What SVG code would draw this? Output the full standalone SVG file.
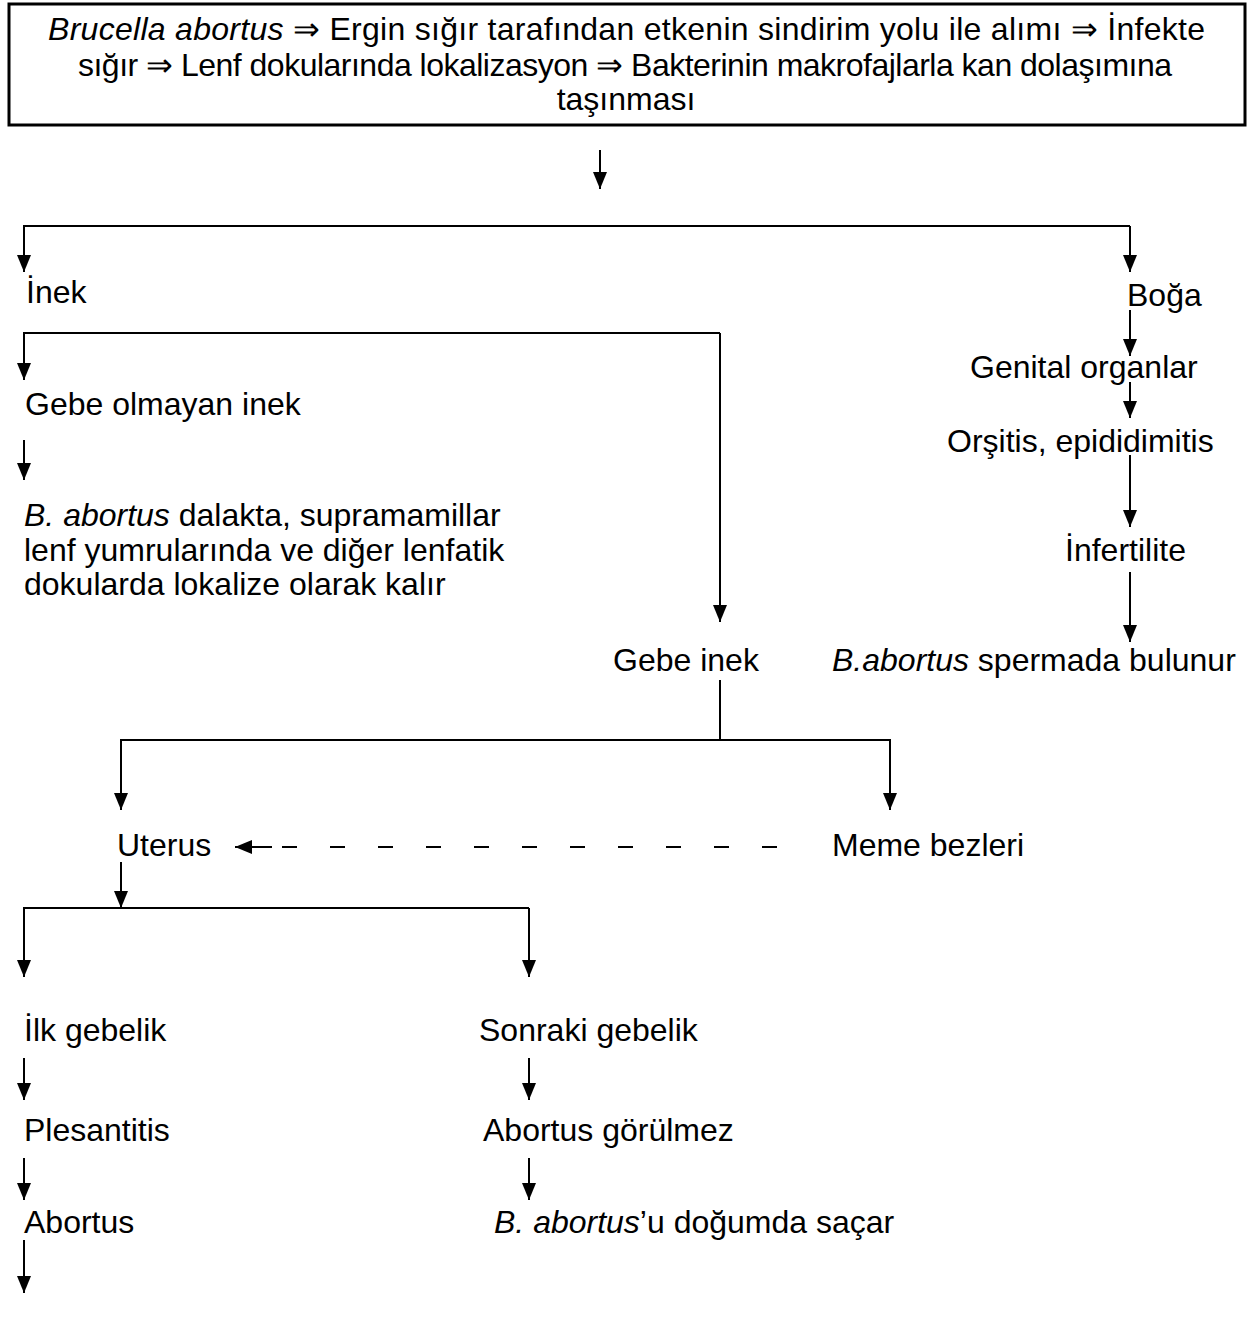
<svg xmlns="http://www.w3.org/2000/svg" width="1253" height="1318" viewBox="0 0 1253 1318">
<style>
text{font-family:"Liberation Sans",Arial,sans-serif;font-size:32px;fill:#000}
.i{font-style:italic}
.c{stroke:#000;stroke-width:2;fill:none}
.d{stroke:#000;stroke-width:2;fill:none;stroke-dasharray:15,33}
</style>
<defs>
<marker id="a" viewBox="0 0 17 14" refX="17" refY="7" markerWidth="17" markerHeight="14" markerUnits="userSpaceOnUse" orient="auto"><path d="M0,0 L17,7 L0,14 Z" fill="#000"/></marker>
</defs>
<g id="top">
<rect x="9" y="4" width="1236" height="121" fill="none" stroke="#000" stroke-width="3"/>
<text x="48" y="40" textLength="1157"><tspan class="i">Brucella abortus</tspan> ⇒ Ergin sığır tarafından etkenin sindirim yolu ile alımı  ⇒ İnfekte</text>
<text x="78" y="76" textLength="1094">sığır  ⇒ Lenf dokularında lokalizasyon  ⇒ Bakterinin makrofajlarla kan dolaşımına</text>
<text x="626" y="110" text-anchor="middle">taşınması</text>
</g>
<g id="inek"><text x="26" y="303">İnek</text></g>
<g id="boga"><text x="1127" y="306">Boğa</text></g>
<g id="gebe-olmayan"><text x="25" y="415">Gebe olmayan inek</text></g>
<g id="lokalize">
<text x="24" y="526"><tspan class="i">B. abortus</tspan> dalakta, supramamillar</text>
<text x="24" y="561">lenf yumrularında ve diğer lenfatik</text>
<text x="24" y="595">dokularda lokalize olarak kalır</text>
</g>
<g id="genital"><text x="970" y="378">Genital organlar</text></g>
<g id="orsitis"><text x="947" y="452">Orşitis, epididimitis</text></g>
<g id="infertilite"><text x="1065" y="561">İnfertilite</text></g>
<g id="sperm"><text x="832" y="671"><tspan class="i">B.abortus</tspan> spermada bulunur</text></g>
<g id="gebe-inek"><text x="613" y="671">Gebe inek</text></g>
<g id="uterus"><text x="117" y="856">Uterus</text></g>
<g id="meme"><text x="832" y="856">Meme bezleri</text></g>
<g id="ilk"><text x="24" y="1041">İlk gebelik</text></g>
<g id="sonraki"><text x="479" y="1041">Sonraki gebelik</text></g>
<g id="plesantitis"><text x="24" y="1141">Plesantitis</text></g>
<g id="gorulmez"><text x="483" y="1141">Abortus görülmez</text></g>
<g id="abortus"><text x="24" y="1233">Abortus</text></g>
<g id="sacar"><text x="494" y="1233"><tspan class="i">B. abortus</tspan>’u doğumda saçar</text></g>
<g id="connectors">
<path class="c" d="M600,150 V189" marker-end="url(#a)"/>
<path class="c" d="M1130,226 H24 V272" marker-end="url(#a)"/>
<path class="c" d="M1130,226 V272" marker-end="url(#a)"/>
<path class="c" d="M720,333 H24 V380" marker-end="url(#a)"/>
<path class="c" d="M720,333 V622" marker-end="url(#a)"/>
<path class="c" d="M24,440 V480" marker-end="url(#a)"/>
<path class="c" d="M1130,310 V356" marker-end="url(#a)"/>
<path class="c" d="M1130,382 V418" marker-end="url(#a)"/>
<path class="c" d="M1130,455 V527" marker-end="url(#a)"/>
<path class="c" d="M1130,572 V642" marker-end="url(#a)"/>
<path class="c" d="M720,680 V740 H121 V810" marker-end="url(#a)"/>
<path class="c" d="M720,740 H890 V810" marker-end="url(#a)"/>
<path class="c" d="M272,847 H235" marker-end="url(#a)"/>
<path class="d" d="M282,847 H780"/>
<path class="c" d="M121,862 V908" marker-end="url(#a)"/>
<path class="c" d="M529,908 H24 V977" marker-end="url(#a)"/>
<path class="c" d="M529,908 V977" marker-end="url(#a)"/>
<path class="c" d="M24,1058 V1100" marker-end="url(#a)"/>
<path class="c" d="M529,1058 V1100" marker-end="url(#a)"/>
<path class="c" d="M24,1158 V1200" marker-end="url(#a)"/>
<path class="c" d="M529,1158 V1200" marker-end="url(#a)"/>
<path class="c" d="M24,1240 V1293" marker-end="url(#a)"/>
</g>
</svg>
